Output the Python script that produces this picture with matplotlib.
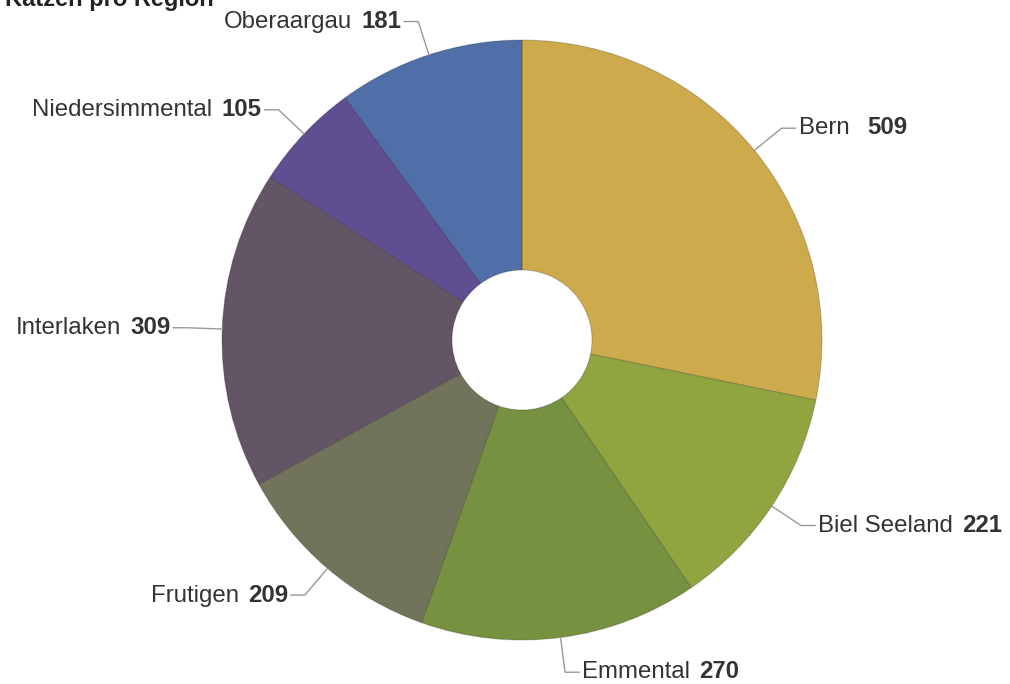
import numpy as np
import matplotlib.pyplot as plt

plt.rcParams['font.family'] = ['Liberation Sans', 'DejaVu Sans']

regions = ["Bern", "Biel Seeland", "Emmental", "Frutigen", "Interlaken",
           "Niedersimmental", "Oberaargau"]
cats = [509, 221, 270, 209, 309, 105, 181]
colors = ["#CDAB4C", "#8FA640", "#76913F", "#71745A", "#635565",
          "#5F4E91", "#506EA8"]
title = "Katzen pro Region"

W, H = 1010, 684
fig = plt.figure(figsize=(W / 100, H / 100), dpi=100)
ax = fig.add_axes([0, 0, 1, 1])

cx, cy, R, hole = 522, H - 340, 300, 70
wedges, _ = ax.pie(cats, colors=colors, startangle=90, counterclock=False,
                   center=(cx, cy), radius=R, frame=True,
                   wedgeprops=dict(width=R - hole, edgecolor="#00000030", linewidth=0.8))
ax.set_xlim(0, W)
ax.set_ylim(0, H)
ax.set_aspect("equal")
ax.axis("off")

txt = "#333333"
fs = 17.3
for w, name, val in zip(wedges, regions, cats):
    ang = np.deg2rad((w.theta1 + w.theta2) / 2)
    x0, y0 = cx + R * np.cos(ang), cy + R * np.sin(ang)
    x1, y1 = cx + 335 * np.cos(ang), cy + 335 * np.sin(ang)
    right = np.cos(ang) >= 0
    x2 = x1 + 14 if right else x1 - 14
    ax.plot([x0, x1, x2], [y0, y1, y1], color="#999999", lw=1)
    if right:
        t = ax.text(x2 + 3, y1, name, ha="left", va="center", fontsize=fs, color=txt)
        ax.annotate(str(val), xy=(1, 0), xycoords=t, xytext=(6.5 if name != "Bern" else 13, 0),
                    textcoords="offset points", ha="left", va="bottom",
                    fontsize=fs, fontweight="bold", color=txt)
    else:
        t = ax.text(x2 - 3, y1, str(val), ha="right", va="center", fontsize=fs,
                    fontweight="bold", color=txt)
        ax.annotate(name, xy=(0, 0), xycoords=t, xytext=(-6.5, 0),
                    textcoords="offset points", ha="right", va="bottom",
                    fontsize=fs, color=txt)

ax.text(5, H - 6, title, ha="left", va="baseline", fontsize=17, fontweight="bold", color="#222222")

fig.savefig("out.png", dpi=100)
